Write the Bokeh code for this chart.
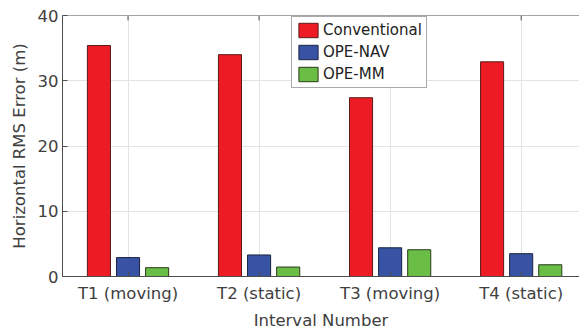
from bokeh.plotting import figure
from bokeh.models import ColumnDataSource, Range1d, FixedTicker, Legend, LegendItem, Span
from bokeh.embed import file_html
from bokeh.resources import INLINE

categories = ["T1 (moving)", "T2 (static)", "T3 (moving)", "T4 (static)"]
conventional = [35.4, 34.0, 27.4, 32.9]
ope_nav = [2.9, 3.3, 4.4, 3.5]
ope_mm = [1.35, 1.45, 4.1, 1.8]
series_names = ["Conventional", "OPE-NAV", "OPE-MM"]
colors = ["#ED1C24", "#3953A4", "#6ABD45"]
edge_colors = ["#5a1a1a", "#1a2340", "#2a3a1a"]
y_ticks = [0, 10, 20, 30, 40]

FONT = "DejaVu Sans"
xpos = list(range(1, len(categories) + 1))
ymax = y_ticks[-1]

p = figure(width=579, height=332, output_backend="svg", toolbar_location=None,
           x_range=Range1d(0.5, 4.445), y_range=Range1d(0, ymax),
           min_border_left=62, min_border_right=0, min_border_top=15, min_border_bottom=56)

p.xgrid.ticker = FixedTicker(ticks=xpos)
p.ygrid.ticker = FixedTicker(ticks=y_ticks)
p.xgrid.grid_line_color = "#e3e3e3"
p.ygrid.grid_line_color = "#e3e3e3"
p.outline_line_color = None

axis_color = "#4d4d4d"
text_color = "#404040"

# top border line and inward ticks
p.add_layout(Span(location=ymax, dimension="width", line_color=axis_color, line_width=1))
p.segment(x0=xpos, y0=[ymax] * len(xpos), x1=xpos, y1=[ymax - 0.75] * len(xpos),
          line_color=axis_color, line_width=1)

items = []
offsets = [-0.222, 0.0, 0.222]
for vals, name, col, ec, off in zip([conventional, ope_nav, ope_mm], series_names, colors, edge_colors, offsets):
    src = ColumnDataSource(dict(x=[x + off for x in xpos], top=vals))
    r = p.vbar(x="x", top="top", width=0.176, bottom=0, source=src,
               fill_color=col, line_color=ec, line_width=1)
    items.append(LegendItem(label=name, renderers=[r]))

p.xaxis.ticker = FixedTicker(ticks=xpos)
p.xaxis.major_label_overrides = {i: c for i, c in zip(xpos, categories)}
p.yaxis.ticker = FixedTicker(ticks=y_ticks)
for ax in [p.xaxis[0], p.yaxis[0]]:
    ax.axis_line_color = axis_color
    ax.major_tick_line_color = axis_color
    ax.major_tick_in = 5
    ax.major_tick_out = 0
    ax.minor_tick_line_color = None
    ax.major_label_text_font = FONT
    ax.major_label_text_font_size = "16.5px"
    ax.major_label_text_color = text_color
    ax.axis_label_text_font = FONT
    ax.axis_label_text_font_size = "16.5px"
    ax.axis_label_text_font_style = "normal"
    ax.axis_label_text_color = text_color
p.xaxis.axis_label = "Interval Number"
p.yaxis.axis_label = "Horizontal RMS Error (m)"
p.xaxis.major_label_standoff = 7
p.xaxis.axis_label_standoff = 5
p.yaxis.major_label_standoff = 4
p.yaxis.axis_label_standoff = 6

legend = Legend(items=items, location=(229, 188))
legend.label_text_font = FONT
legend.label_text_font_size = "15px"
legend.label_text_color = "#222222"
legend.glyph_width = 24
legend.glyph_height = 18
legend.label_standoff = 3
legend.spacing = 4
legend.padding = 4
legend.margin = 0
legend.label_height = 18
legend.border_line_color = "#555555"
legend.background_fill_alpha = 1
p.add_layout(legend, "center")

open("out.html", "w").write(file_html(p, INLINE))
